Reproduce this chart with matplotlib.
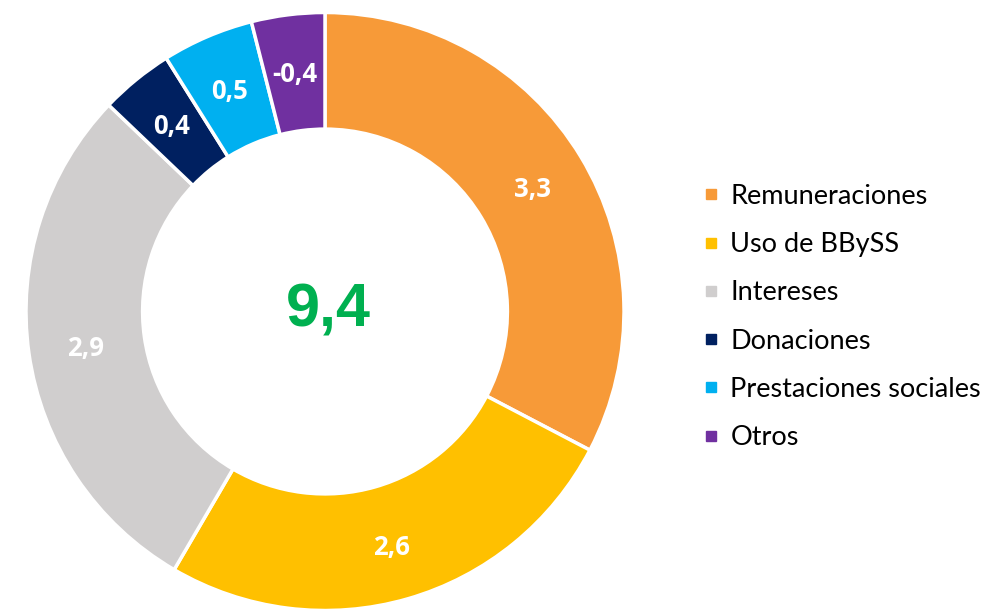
import matplotlib
matplotlib.use("Agg")
import matplotlib.pyplot as plt
from matplotlib.lines import Line2D

categories = ["Remuneraciones", "Uso de BBySS", "Intereses", "Donaciones",
              "Prestaciones sociales", "Otros"]
values = [3.3, 2.6, 2.9, 0.4, 0.5, -0.4]
labels = ["3,3", "2,6", "2,9", "0,4", "0,5", "-0,4"]
colors = ["#F79A38", "#FFC000", "#D0CECE", "#002060", "#00B0F0", "#7030A0"]
total_label = "9,4"

W, H = 985, 613
fig = plt.figure(figsize=(W / 100, H / 100), dpi=100)
cx, cy, R = 325, 311.5, 299
ax = fig.add_axes([(cx - R) / W, (H - cy - R) / H, 2 * R / W, 2 * R / H])

sizes = [abs(v) for v in values]
wedges, texts = ax.pie(sizes, colors=colors, startangle=90, counterclock=False,
                       radius=1.0, labels=labels, labeldistance=0.81,
                       wedgeprops=dict(width=0.39, edgecolor="white", linewidth=2.5),
                       textprops=dict(color="white", fontweight="bold", fontsize=18.5,
                                      family="Open Sans"))
for t in texts:
    t.set_ha("center")
    t.set_va("center_baseline")
ax.set_xlim(-1, 1)
ax.set_ylim(-1, 1)
ax.set_aspect("equal")
ax.axis("off")

ax.text(0.01, 0, total_label, ha="center", va="center", color="#00B050",
        fontsize=44, fontweight="bold", family="Liberation Sans")

handles = [Line2D([0], [0], marker="s", linestyle="none", markersize=7.5,
                  markerfacecolor=c, markeredgecolor=c) for c in colors]
fig.legend(handles, categories, loc="center left",
           bbox_to_anchor=(702 / W, 1 - 317 / H), frameon=False,
           prop=dict(family="Lato", size=19.5), labelspacing=0.86,
           handlelength=0.7, handletextpad=0.35, borderpad=0, borderaxespad=0)

fig.savefig("out.png", dpi=100)
